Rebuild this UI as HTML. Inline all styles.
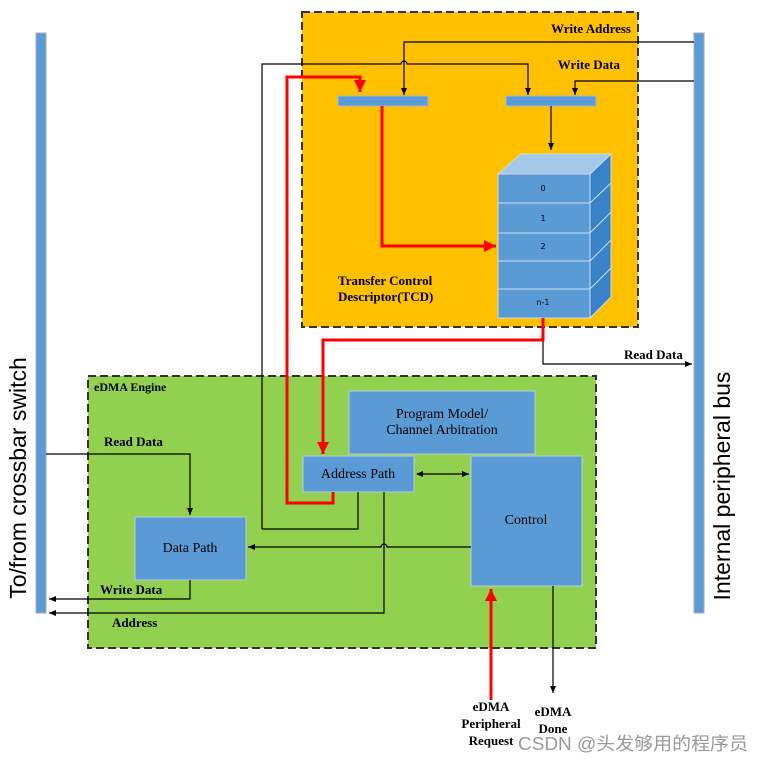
<!DOCTYPE html><html><head><style>body{margin:0;background:#fff}svg{display:block}</style></head><body>
<svg width="764" height="762" xmlns="http://www.w3.org/2000/svg" font-family="Liberation Serif, serif">
<defs>
<marker id="a" markerWidth="8" markerHeight="8" refX="7" refY="4" orient="auto" markerUnits="userSpaceOnUse"><path d="M0,1 L7,4 L0,7z" fill="#000"/></marker>
<marker id="as" markerWidth="8" markerHeight="8" refX="1" refY="4" orient="auto" markerUnits="userSpaceOnUse"><path d="M7,1 L0,4 L7,7z" fill="#000"/></marker>
<marker id="r" markerWidth="14" markerHeight="14" refX="12" refY="6" orient="auto" markerUnits="userSpaceOnUse"><path d="M0,0 L12,6 L0,12z" fill="#f00"/></marker>
</defs>
<rect x="302" y="12" width="336" height="315" fill="#FFC000" stroke="#333" stroke-width="2" stroke-dasharray="8,4"/>
<rect x="88" y="376" width="508" height="272" fill="#92D050" stroke="#333" stroke-width="2" stroke-dasharray="8,4"/>
<rect x="36" y="33" width="10" height="580" fill="#5B9BD5" stroke="#aab" stroke-width="1"/>
<rect x="694" y="33" width="10" height="580" fill="#5B9BD5" stroke="#aab" stroke-width="1"/>
<text transform="translate(26,478) rotate(-90)" font-family="Liberation Sans, sans-serif" font-size="23" text-anchor="middle">To/from crossbar switch</text>
<text transform="translate(730,486) rotate(-90)" font-family="Liberation Sans, sans-serif" font-size="23" text-anchor="middle">Internal peripheral bus</text>
<g font-weight="bold" font-size="13">
<text x="631" y="33" text-anchor="end">Write Address</text>
<text x="620" y="69" text-anchor="end">Write Data</text>
<text x="338" y="285">Transfer Control</text>
<text x="338" y="301">Descriptor(TCD)</text>
<text x="624" y="359">Read Data</text>
<text x="94" y="391" font-size="12">eDMA Engine</text>
<text x="104" y="446">Read Data</text>
<text x="100" y="594">Write Data</text>
<text x="112" y="627">Address</text>
<text x="491" y="711" text-anchor="middle">eDMA</text>
<text x="491" y="728" text-anchor="middle">Peripheral</text>
<text x="491" y="745" text-anchor="middle">Request</text>
<text x="553" y="716" text-anchor="middle">eDMA</text>
<text x="553" y="733" text-anchor="middle">Done</text>
</g>
<rect x="338" y="96" width="90" height="10" fill="#5B9BD5" stroke="#9bd" />
<rect x="506" y="96" width="90" height="10" fill="#5B9BD5" stroke="#9bd" />
<polygon points="498,174 521,154 611,154 590,174" fill="#A4C8E8" stroke="#cde"/>
<polygon points="590,174 611,154 611,297 590,318" fill="#3A82C8" stroke="#cde"/>
<g fill="#5B9BD5" stroke="#cde">
<rect x="498" y="174" width="92" height="29"/><rect x="498" y="203" width="92" height="30"/><rect x="498" y="233" width="92" height="28"/><rect x="498" y="261" width="92" height="28"/><rect x="498" y="289" width="92" height="29"/>
</g>
<g stroke="#cde"><line x1="590" y1="203" x2="611" y2="183"/><line x1="590" y1="233" x2="611" y2="212"/><line x1="590" y1="261" x2="611" y2="240"/><line x1="590" y1="289" x2="611" y2="268"/></g>
<g font-family="DejaVu Sans, sans-serif" font-size="8" text-anchor="middle"><text x="543" y="191">0</text><text x="543" y="221">1</text><text x="543" y="249">2</text><text x="543" y="305">n-1</text></g>
<rect x="349" y="391" width="186" height="63" fill="#5B9BD5" stroke="#bcd"/>
<rect x="303" y="456" width="111" height="36" fill="#5B9BD5" stroke="#bcd"/>
<rect x="471" y="456" width="111" height="130" fill="#5B9BD5" stroke="#bcd"/>
<rect x="135" y="517" width="111" height="63" fill="#5B9BD5" stroke="#bcd"/>
<g font-size="14" text-anchor="middle"><text x="442" y="418">Program Model/</text><text x="442" y="434">Channel Arbitration</text><text x="358" y="478">Address Path</text><text x="526" y="524">Control</text><text x="190" y="552">Data Path</text></g>
<g fill="none" stroke="#000" stroke-width="1.2">
<path d="M694,42 H404 V95" marker-end="url(#a)"/>
<path d="M262,529 V64 H401 a3,3 0 0 1 6,0 H528 V95" marker-end="url(#a)"/>
<path d="M262,529 H358 V492"/>
<path d="M694,81 H575 V95" marker-end="url(#a)"/>
<path d="M551,106 V150" marker-end="url(#a)"/>
<path d="M543,320 V364 H692" marker-end="url(#a)"/>
<path d="M417,474 H469" marker-start="url(#as)" marker-end="url(#a)"/>
<path d="M46,454 H190 V515" marker-end="url(#a)"/>
<path d="M190,580 V599 H49" marker-end="url(#a)"/>
<path d="M384,492 V613 H49" marker-end="url(#a)"/>
<path d="M471,547 H387 a3,3 0 0 0 -6,0 H248" marker-end="url(#a)"/>
<path d="M553,586 V693" marker-end="url(#a)"/>
</g>
<g fill="none" stroke="#f00" stroke-width="3">
<path d="M333,492 V503 H287 V77 H360 V92" marker-end="url(#r)"/>
<path d="M382,106 V246 H496" marker-end="url(#r)"/>
<path d="M543,318 V340 H323 V454" marker-end="url(#r)"/>
<path d="M491,700 V589" marker-end="url(#r)"/>
</g>
<text x="518" y="750" font-family="Liberation Sans, Noto Sans CJK SC, sans-serif" font-size="18" fill="#999" textLength="230" lengthAdjust="spacingAndGlyphs">CSDN @头发够用的程序员</text>
</svg>
</body></html>
